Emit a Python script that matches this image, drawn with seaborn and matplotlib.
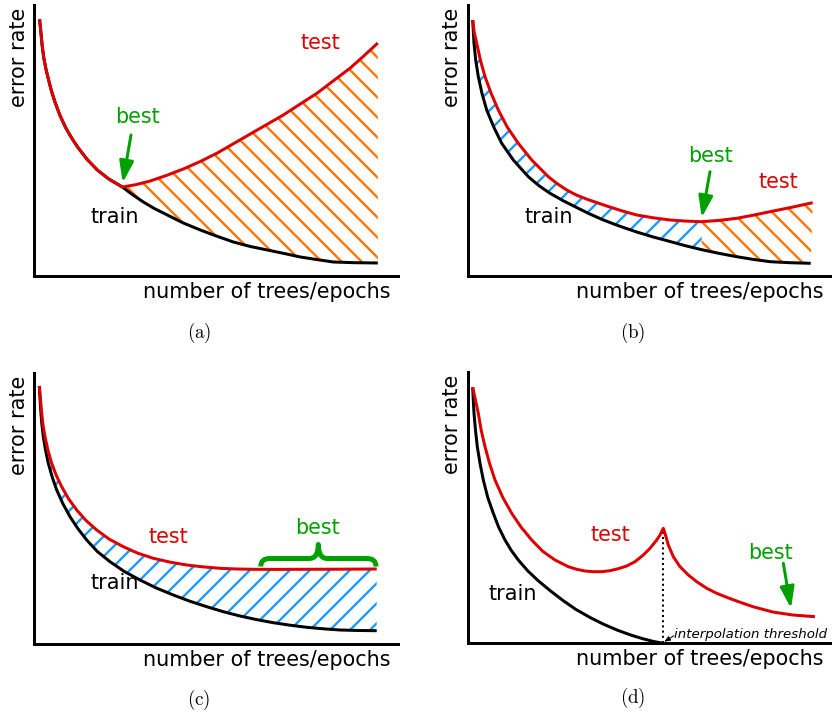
import matplotlib
matplotlib.use("Agg")
import matplotlib.pyplot as plt
import seaborn as sns
from matplotlib.path import Path
from matplotlib.patches import PathPatch

DPI = 60
PX = 72 / DPI  # points per pixel

RED = "#DD0000"
GREEN = "#00A000"
ORANGE = "#FF7700"
BLUE = "#1E9BFF"
BLACK = "#000000"

# ---------------- data (panel units: x right of y-axis, y above x-axis) ----------------
# (a)
train_a_x = [5.3, 6.7, 7.8, 9.3, 11.5, 14.3, 17.3, 21, 25.5, 31, 37, 44, 52.5, 63, 74.5, 88,
             98, 109, 120, 133, 149, 166, 182, 199, 216, 233, 250, 266, 282, 299, 320, 343.5]
train_a_y = [256.7, 242.7, 231, 219.3, 207.5, 196, 184.5, 173, 161, 149, 138.5, 128, 117, 106, 97, 89,
             81.5, 74, 67.5, 61, 53, 46, 40, 34, 29.5, 26, 22.5, 19, 16.5, 14, 13.3, 13]
test_a_x = [5.3, 6.7, 7.8, 9.3, 11.5, 14.3, 17.3, 21, 25.5, 31, 37, 44, 52.5, 63, 74.5, 88,
            101, 116, 132, 149, 166, 183, 199.5, 216, 232.5, 249, 266, 283, 299.5, 316, 330, 343.5]
test_a_y = [256.7, 242.7, 231, 219.3, 207.5, 196, 184.5, 173, 161, 149, 138.5, 128, 117, 106, 97, 89,
            91.2, 95, 100.5, 107, 114.5, 123, 132.5, 142, 151.5, 161, 172, 183, 195.5, 208, 220.5, 233]
best_a_x = 88

# (b)
train_b_x = [5, 6.3, 8, 10.6, 14.3, 19, 26, 34, 45.6, 60.6, 71, 82.3, 95, 107.3, 121, 135.6,
             152, 169, 185.5, 202.3, 218, 234, 251.5, 269, 285.5, 302.3, 322, 343]
train_b_y = [256, 232.7, 216, 199.3, 182.5, 166, 149, 132.7, 116, 99.3, 90.5, 82.7, 75.5, 69.3, 62.5, 56,
             49.8, 44, 39, 34.5, 30.2, 26.3, 22.6, 19.3, 16.6, 14.3, 13.3, 12.7]
test_b_x = [5, 6.5, 9, 12.8, 17.3, 23.5, 30.6, 39.5, 50.6, 64, 80.6, 89.5, 99, 109, 120, 139,
            154, 169, 185.5, 202.3, 218, 234, 251.5, 269, 285.5, 302.3, 323.5, 345]
test_b_y = [256, 244, 232.7, 215.5, 199.3, 182.5, 166, 149, 132.7, 116, 99.3, 92.3, 86, 80.8, 76.5, 70,
            65.2, 61, 58.2, 56, 54.9, 54.3, 55.6, 57.7, 60.8, 64.3, 68.6, 73.3]
best_b_x = 234

# (c)
train_c_x = [5, 6.4, 7.5, 9, 11.2, 14, 17.8, 22.4, 28.5, 35.7, 43.5, 52.4, 63, 75.7, 90, 105.7,
             122, 139, 155.5, 172.4, 189, 205.7, 222.3, 239, 255.7, 272.4, 289, 305.7, 324, 342.4]
train_c_y = [258, 234, 220.5, 207.3, 194, 180.7, 167.3, 154, 140.5, 127.3, 115.5, 104, 92.5, 82.3, 72.5, 64,
             56, 49, 42.8, 37.3, 32.3, 28, 24.4, 21.3, 18.8, 16.7, 15.2, 14, 13.5, 13.3]
test_c_x = [5, 7.4, 8.8, 10.7, 13.7, 17.4, 22, 27.4, 34.2, 42.4, 51.7, 62.4, 75, 89, 103.5, 119,
            135.5, 152.4, 169, 185.7, 202.3, 219, 242, 265.7, 304, 342.4]
test_c_y = [258, 230.7, 218.5, 207.3, 193.5, 180.7, 168.5, 157.3, 145.3, 134, 123.5, 114, 104.8, 97.3, 90.8, 85.7,
            81.9, 79, 77.1, 75.7, 75, 74.7, 74.6, 74.7, 74.8, 75]

# (d)
train_d_x = [5, 5.5, 6.3, 7.8, 9.6, 12.3, 15.6, 20, 25.6, 31, 37.3, 43.5, 50.6, 60, 70, 82,
             95, 108, 122, 136, 150, 163, 175, 186, 195.6]
train_d_y = [256, 245, 230, 213, 196.6, 180, 163.3, 146, 130, 116, 103.3, 93, 83.3, 72.5, 63,
             53, 43, 34, 26, 19, 13, 8.3, 4.6, 1.8, 0]
test_d_x = [5, 7, 10.6, 13.5, 17.3, 21.8, 27.3, 35, 44, 53.5, 64, 75, 87.3, 100.6, 109, 117.3,
            125.6, 134, 142.3, 150.6, 159, 167.3, 175.6, 182.3, 189, 192.3, 195.6,
            197.3, 200.6, 205.6, 212.3, 220.6, 229, 239, 249, 259, 271, 285.6, 305, 325, 347.3]
test_d_y = [256, 246.6, 230, 213, 196.6, 180, 163.3, 146, 130, 116, 103.3, 92, 83.3, 76.6, 74,
            72.3, 71.6, 71.6, 72.6, 74.6, 77.3, 81.6, 88.3, 95, 103.3, 108.3, 115,
            110, 98.3, 86.6, 76.6, 68.3, 61.6, 55, 50, 46, 41.5, 36.5, 31.3, 28.3, 26.6]
threshold_d = 195.6

# ---------------- style ----------------
sns.set_theme(style="white")
plt.rcParams["font.family"] = ["DejaVu Sans"]
plt.rcParams["mathtext.fontset"] = "cm"
plt.rcParams["hatch.linewidth"] = 2.4 * PX

FS = 20.7 * PX        # main label font
FS_SMALL = 13.4 * PX
FS_CAP = 19 * PX
LW = 3 * PX

fig = plt.figure(figsize=(832.01 / DPI, 713.01 / DPI), dpi=DPI)
W, H = 364, 271


def make_ax(left, bottom):
    ax = fig.add_axes([left / 832, 1 - bottom / 713, W / 832, H / 713])
    ax.set_xlim(0, W)
    ax.set_ylim(0, H)
    ax.set_facecolor("none")
    sns.despine(ax=ax)
    for s in ("left", "bottom"):
        ax.spines[s].set_linewidth(LW)
        ax.spines[s].set_color(BLACK)
    ax.set_xticks([])
    ax.set_yticks([])
    ax.set_ylabel("error rate", fontsize=FS, color=BLACK, rotation=90,
                  rotation_mode="anchor", ha="right", va="baseline")
    ax.yaxis.set_label_coords(-9.3 / W, 268.7 / H)
    ax.set_xlabel("number of trees/epochs", fontsize=FS, color=BLACK,
                  ha="right", va="baseline")
    ax.xaxis.set_label_coords(356 / W, -21.5 / H)
    return ax


def curve(ax, xs, ys, color):
    sns.lineplot(x=xs, y=ys, ax=ax, color=color, linewidth=LW, estimator=None,
                 sort=False, legend=False, solid_capstyle="butt", solid_joinstyle="round")


def hatch_region(ax, tx, ty, bx, by, color, hatch):
    xs = list(tx) + list(bx)[::-1]
    ys = list(ty) + list(by)[::-1]
    ax.fill(xs, ys, facecolor="none", edgecolor=color, hatch=hatch, linewidth=0, zorder=1)


def label(ax, x, y, s, color):
    ax.text(x, y, s, fontsize=FS, color=color, ha="center", va="center")


def green_arrow(ax, tail, tip):
    ax.annotate("", xy=tip, xytext=tail,
                arrowprops=dict(arrowstyle="-|>,head_length=0.9,head_width=0.3",
                                color=GREEN, lw=LW, mutation_scale=20 * PX,
                                shrinkA=0, shrinkB=0))


# ---------------- (a) ----------------
ax = make_ax(34.3, 276)
ia, ja = test_a_x.index(best_a_x), train_a_x.index(best_a_x)
hatch_region(ax, test_a_x[ia:], test_a_y[ia:], train_a_x[ja:], train_a_y[ja:], ORANGE, "\\")
curve(ax, train_a_x, train_a_y, BLACK)
curve(ax, test_a_x, test_a_y, RED)
label(ax, 285.7, 233, "test", RED)
label(ax, 102.7, 159, "best", GREEN)
label(ax, 80.7, 59, "train", BLACK)
green_arrow(ax, (96.7, 141), (88.4, 93.3))

# ---------------- (b) ----------------
ax = make_ax(467.7, 276)
ib, jb = test_b_x.index(best_b_x), train_b_x.index(best_b_x)
hatch_region(ax, test_b_x[:ib + 1], test_b_y[:ib + 1],
             train_b_x[:jb + 1], train_b_y[:jb + 1], BLUE, "/")
hatch_region(ax, test_b_x[ib:], test_b_y[ib:],
             train_b_x[jb:], train_b_y[jb:], ORANGE, "\\")
curve(ax, train_b_x, train_b_y, BLACK)
curve(ax, test_b_x, test_b_y, RED)
label(ax, 310.6, 94.3, "test", RED)
label(ax, 243, 120, "best", GREEN)
label(ax, 80.6, 59.3, "train", BLACK)
green_arrow(ax, (242.3, 104.3), (234, 58.5))

# ---------------- (c) ----------------
ax = make_ax(34.3, 644)
hatch_region(ax, test_c_x, test_c_y, train_c_x, train_c_y, BLUE, "/")
curve(ax, train_c_x, train_c_y, BLACK)
curve(ax, test_c_x, test_c_y, RED)
label(ax, 134, 107.3, "test", RED)
label(ax, 80.7, 60.7, "train", BLACK)
label(ax, 283, 115.7, "best", GREEN)
# curly brace
x1, x2, xm = 226.4, 341.7, 284.0
yb, yh, yt, r = 77.5, 85.5, 99.5, 9.0
verts = [(x1, yb), (x1, yh), (x1 + r, yh), (xm - r, yh), (xm, yh), (xm, yt),
         (xm, yh), (xm + r, yh), (x2 - r, yh), (x2, yh), (x2, yb)]
codes = [Path.MOVETO, Path.CURVE3, Path.CURVE3, Path.LINETO, Path.CURVE3, Path.CURVE3,
         Path.CURVE3, Path.CURVE3, Path.LINETO, Path.CURVE3, Path.CURVE3]
ax.add_patch(PathPatch(Path(verts, codes), facecolor="none", edgecolor=GREEN,
                       linewidth=5 * PX, capstyle="butt", joinstyle="round", zorder=4))

# ---------------- (d) ----------------
ax = make_ax(467.7, 643.3)
curve(ax, train_d_x, train_d_y, BLACK)
curve(ax, test_d_x, test_d_y, RED)
peak = max(test_d_y[20:])
ax.plot([threshold_d, threshold_d], [0, peak], color=BLACK, linewidth=2 * PX,
        linestyle=(0, (1, 1.6)), zorder=1)
label(ax, 142.3, 108.3, "test", RED)
label(ax, 45, 49.3, "train", BLACK)
label(ax, 303, 90.6, "best", GREEN)
green_arrow(ax, (315.6, 80), (323.3, 35))
ax.text(206.3, 9, "interpolation threshold", fontsize=FS_SMALL, style="italic",
        color=BLACK, ha="left", va="center")
ax.annotate("", xy=(196.5, 1.5), xytext=(206, 7.5),
            arrowprops=dict(arrowstyle="-|>,head_length=0.5,head_width=0.2", color=BLACK,
                            lw=1 * PX, mutation_scale=10 * PX, shrinkA=0, shrinkB=0))

# ---------------- captions ----------------
for s, cx, cy in [("a", 199, 332.7), ("b", 633, 332.7), ("c", 198.3, 700), ("d", 632.8, 698.3)]:
    fig.text(cx / 832, 1 - cy / 713, r"$\mathrm{(" + s + ")}$", fontsize=FS_CAP,
             ha="center", va="center", color=BLACK)

fig.savefig("out.png", dpi=DPI)
